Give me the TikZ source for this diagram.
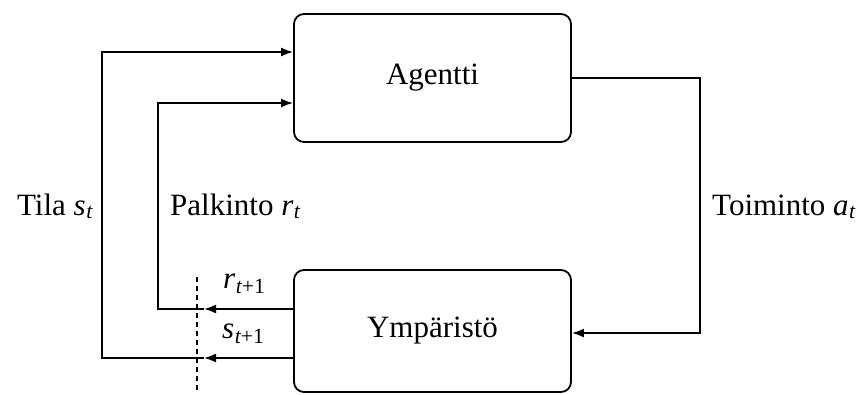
\documentclass[tikz,border=0pt]{standalone}
\usepackage{fontspec}
\setmainfont{Liberation Serif}
\usetikzlibrary{arrows.meta}
% italic symbol with subscript, set in the text font
\newcommand\symsub[2]{\textit{#1}\kern0.5pt\textsubscript{#2}}
\begin{document}
\begin{tikzpicture}[x=1pt,y=-1pt,
  font=\fontsize{31}{36}\selectfont,
  block/.style={draw,line width=1.8pt,rounded corners=10pt},
  wire/.style={line width=1.8pt},
  flow/.style={wire,-{Latex[length=12pt,width=9pt]}},
  lbl/.style={inner sep=0pt}]
\useasboundingbox (0,0) rectangle (860,394);
% the two blocks of the loop
\node[block,minimum width=277pt,minimum height=128pt] (agent) at (432.5,78) {Agentti};
\node[block,minimum width=277pt,minimum height=122pt] (env) at (432.5,331) {Ympäristö};
% action from agent to environment
\coordinate (ar) at (700,78);
\coordinate (br) at (700,333);
\draw[flow] (agent.east |- ar) -- (ar) -- (br) -- (env.east |- br);
\node[lbl,anchor=base west] (act) at (712,215) {Toiminto \symsub{a}{\itshape t}};
% observation cut (dashed)
\coordinate (cutT) at (197,277);
\coordinate (cutB) at (197,390);
\draw[line width=1.3pt,dash pattern=on 5pt off 4pt] (cutT) -- (cutB);
% reward path
\coordinate (rtip) at (204,309);
\coordinate (rl) at (158,309);
\coordinate (rt) at (158,103);
\draw[flow] (env.west |- rtip) -- (rtip);
\draw[flow] (rtip) -- (rl) -- (rt) -- (agent.west |- rt);
% state path
\coordinate (stip) at (204,358);
\coordinate (sl) at (102,358);
\coordinate (st) at (102,52);
\draw[flow] (env.west |- stip) -- (stip);
\draw[flow] (stip) -- (sl) -- (st) -- (agent.west |- st);
% labels
\node[lbl,anchor=base west] (rnext) at (223,288) {\symsub{r}{\itshape t\upshape +1}};
\node[lbl,anchor=base west] (snext) at (222,338) {\symsub{s}{\itshape t\upshape +1}};
\node[lbl,anchor=base east] (state) at (93,215) {Tila \symsub{s}{\itshape t}};
\node[lbl,anchor=base west] (reward) at (170,215) {Palkinto \symsub{r}{\itshape t}};
\end{tikzpicture}
\end{document}
